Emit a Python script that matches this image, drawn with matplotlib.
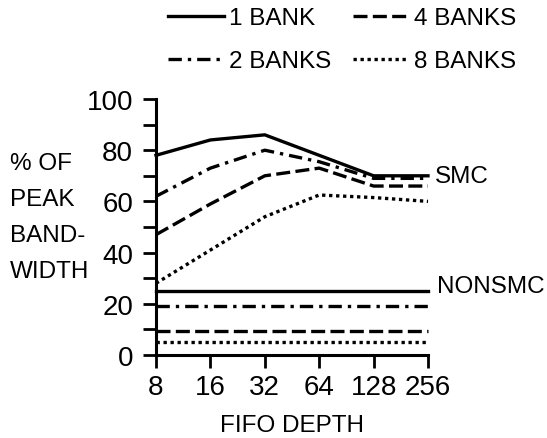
import matplotlib
matplotlib.use("Agg")
import matplotlib.pyplot as plt
import matplotlib.transforms as mtransforms

plt.rcParams['font.family'] = ['Liberation Sans', 'DejaVu Sans']

fifo_depth = [8, 16, 32, 64, 128, 256]
fifo_labels = ['8', '16', '32', '64', '128', '256']

smc_1bank = [78, 84, 86, 78, 70, 70]
smc_2banks = [62, 73, 80, 75.5, 69, 69]
smc_4banks = [47, 59, 70, 73, 66, 66]
smc_8banks = [28, 41, 54, 62.5, 61.5, 60]

nonsmc_1bank = [25, 25, 25, 25, 25, 25]
nonsmc_2banks = [19, 19, 19, 19, 19, 19]
nonsmc_4banks = [9.5, 9.5, 9.5, 9.5, 9.5, 9.5]
nonsmc_8banks = [5, 5, 5, 5, 5, 5]

series_labels = ['1 BANK', '2 BANKS', '4 BANKS', '8 BANKS']

FS = 17.5
TFS = 20
LW = 2.4
styles = [
    '-',
    (0, (4, 1.8, 1, 1.8)),
    (0, (4.2, 1.6)),
    (0, (1, 1.1)),
]

fig = plt.figure(figsize=(5.47, 4.39), dpi=100)
W, H = 547, 439
ax = fig.add_axes([156 / W, 1 - 356 / H, (428 - 156) / W, (356 - 100) / H])

smc = [smc_1bank, smc_2banks, smc_4banks, smc_8banks]
nonsmc = [nonsmc_1bank, nonsmc_2banks, nonsmc_4banks, nonsmc_8banks]
handles = []
for s, n, ls, lab in zip(smc, nonsmc, styles, series_labels):
    h, = ax.plot(fifo_depth, s, color='black', lw=LW, linestyle=ls, label=lab, clip_on=False)
    ax.plot(fifo_depth, n, color='black', lw=LW, linestyle=ls, clip_on=False)
    handles.append(h)

ax.set_xscale('log', base=2)
ax.set_xlim(8, 256)
ax.set_ylim(0, 100)
ax.set_xticks(fifo_depth)
ax.set_xticklabels(fifo_labels)
ax.xaxis.set_minor_locator(matplotlib.ticker.NullLocator())
ax.set_yticks([0, 20, 40, 60, 80, 100])
ax.set_yticks([10, 30, 50, 70, 90], minor=True)

for side in ['top', 'right']:
    ax.spines[side].set_visible(False)
for side in ['left', 'bottom']:
    ax.spines[side].set_linewidth(2.2)

ax.tick_params(axis='both', which='both', direction='out', length=9.5, width=2.0,
               labelsize=TFS, color='black')
ax.tick_params(axis='y', pad=7)
ax.tick_params(axis='x', pad=4)

ax.set_xlabel('FIFO DEPTH', fontsize=FS, labelpad=10)

fig.text(10 / W, 1 - 153 / H, '% OF\nPEAK\nBAND-\nWIDTH', fontsize=FS,
         ha='left', va='top', linespacing=1.82)

trans = mtransforms.blended_transform_factory(ax.transAxes, ax.transData)
ax.text(1.026, 70, 'SMC', transform=trans, fontsize=FS, ha='left', va='center')
ax.text(1.033, 27, 'NONSMC', transform=trans, fontsize=FS, ha='left', va='center')

leg = fig.legend(handles=handles, labels=series_labels,
                 ncol=2, loc='upper left', bbox_to_anchor=(168 / W, 1 - 8 / H),
                 frameon=False, fontsize=FS, handlelength=2.3, handletextpad=0.2,
                 columnspacing=0.9, labelspacing=0.87, borderpad=0, borderaxespad=0)

fig.savefig('out.png', dpi=100)
